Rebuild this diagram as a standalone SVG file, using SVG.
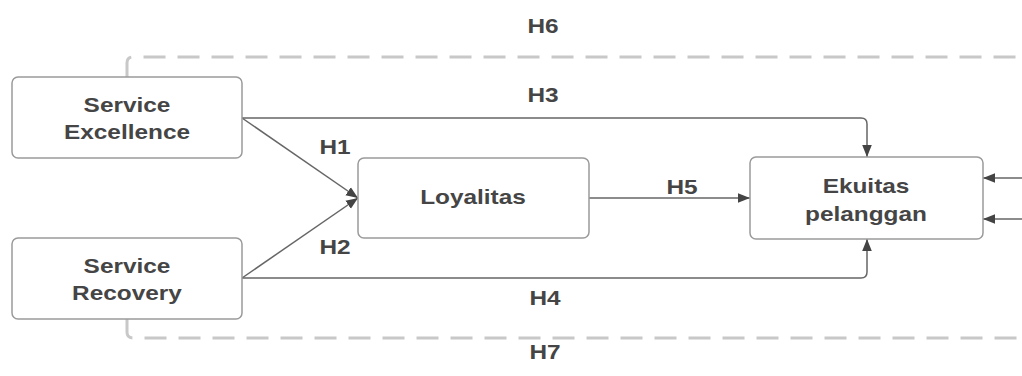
<svg xmlns="http://www.w3.org/2000/svg" width="1022" height="376" viewBox="0 0 1022 376">
<style>
.box{fill:#fff;stroke:#9a9a9a;stroke-width:1.5}
.t{font-family:"Liberation Sans",Arial,sans-serif;font-weight:bold;font-size:20px;fill:#454545;text-anchor:middle}
.c{fill:none;stroke:#666;stroke-width:1.5}
.d{fill:none;stroke:#c8c8c8;stroke-width:3;stroke-dasharray:22 12}
</style>
<defs>
<marker id="a" viewBox="0 0 10 10" refX="10" refY="5" markerWidth="12" markerHeight="12" markerUnits="userSpaceOnUse" orient="auto">
<path d="M0,1 L10,5 L0,9 Z" fill="#444"/>
</marker>
</defs>
<g id="connectors">
<path class="d" d="M127,77 V63 Q127,57 133,57 H1022"/>
<path class="d" d="M127,319 V332 Q127,338 133,338 H1022"/>
<path class="c" d="M242,118 H861 Q867,118 867,124 V157" marker-end="url(#a)"/>
<path class="c" d="M242,278 H861 Q867,278 867,272 V239" marker-end="url(#a)"/>
<path class="c" d="M242,118 L358,198" marker-end="url(#a)"/>
<path class="c" d="M242,278 L358,198" marker-end="url(#a)"/>
<path class="c" d="M589,198 H750" marker-end="url(#a)"/>
<path class="c" d="M1022,178 H983" marker-end="url(#a)"/>
<path class="c" d="M1022,219 H983" marker-end="url(#a)"/>
</g>
<g id="service-excellence">
<rect class="box" x="12" y="77" width="230" height="81" rx="6"/>
<text class="t" transform="matrix(1.22 0 0 1 127 112)">Service</text>
<text class="t" transform="matrix(1.22 0 0 1 127 139)">Excellence</text>
</g>
<g id="service-recovery">
<rect class="box" x="12" y="238" width="230" height="81" rx="6"/>
<text class="t" transform="matrix(1.22 0 0 1 127 273)">Service</text>
<text class="t" transform="matrix(1.22 0 0 1 127 300)">Recovery</text>
</g>
<g id="loyalitas">
<rect class="box" x="358" y="158" width="231" height="80" rx="6"/>
<text class="t" transform="matrix(1.22 0 0 1 473 204)">Loyalitas</text>
</g>
<g id="ekuitas">
<rect class="box" x="750" y="157" width="233" height="82" rx="6"/>
<text class="t" transform="matrix(1.22 0 0 1 866 193)">Ekuitas</text>
<text class="t" transform="matrix(1.22 0 0 1 866 221)">pelanggan</text>
</g>
<g id="labels">
<text class="t" transform="matrix(1.22 0 0 1 543 33)">H6</text>
<text class="t" transform="matrix(1.22 0 0 1 543 102)">H3</text>
<text class="t" transform="matrix(1.22 0 0 1 335 154)">H1</text>
<text class="t" transform="matrix(1.22 0 0 1 335 254)">H2</text>
<text class="t" transform="matrix(1.22 0 0 1 682 194)">H5</text>
<text class="t" transform="matrix(1.22 0 0 1 545 305)">H4</text>
<text class="t" transform="matrix(1.22 0 0 1 545 359)">H7</text>
</g>
</svg>
